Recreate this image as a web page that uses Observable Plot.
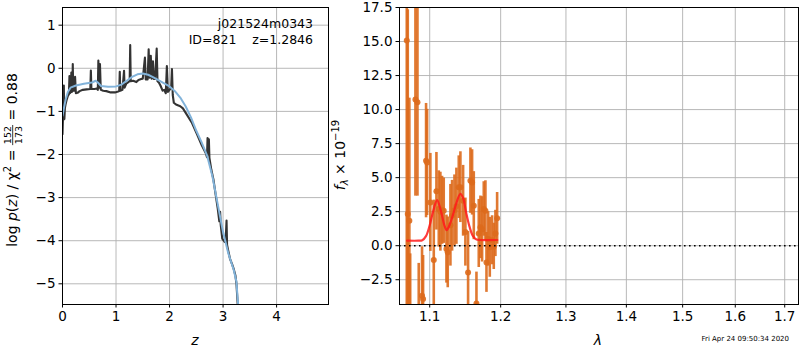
<!DOCTYPE html>
<html><head><meta charset="utf-8">
<script src="https://cdn.jsdelivr.net/npm/d3@7"></script>
<script src="https://cdn.jsdelivr.net/npm/@observablehq/plot@0.6"></script>
<style>
body{margin:0;background:#fff;}
#wrap{position:relative;width:800px;height:350px;overflow:hidden;font-family:"DejaVu Sans",sans-serif;}
#wrap svg{position:absolute;top:0;}
</style></head><body><div id="wrap"></div>
<script>
// ---- left panel data: log p(z) ----
const pzZ = [0.000,0.010,0.020,0.025,0.030,0.035,0.045,0.060,0.080,0.100,0.120,0.130,0.140,0.155,0.165,0.175,0.185,0.192,0.200,0.220,0.235,0.250,0.280,0.320,0.380,0.450,0.520,0.530,0.540,0.600,0.640,0.660,0.670,0.685,0.700,0.715,0.760,0.820,0.900,0.980,1.040,1.060,1.070,1.080,1.120,1.150,1.160,1.190,1.230,1.255,1.265,1.275,1.320,1.380,1.420,1.470,1.500,1.540,1.555,1.590,1.610,1.625,1.650,1.665,1.690,1.705,1.730,1.760,1.775,1.800,1.830,1.870,1.900,1.930,1.950,1.970,2.000,2.030,2.045,2.060,2.080,2.120,2.200,2.250,2.320,2.420,2.510,2.600,2.680,2.700,2.710,2.725,2.735,2.745,2.780,2.820,2.860,2.900,2.930,2.945,2.955,2.985,3.030,3.050,3.065,3.075,3.100,3.130,3.170,3.200,3.230,3.250,3.265,3.280];
const pzLog = [-1.53,-1.10,-0.95,-0.40,-0.95,-1.18,-0.92,-0.82,-0.72,-0.64,-0.60,-0.18,-0.58,-0.55,-0.10,-0.55,-0.53,0.10,-0.52,-0.52,-0.20,-0.58,-0.57,-0.53,-0.50,-0.49,-0.48,-0.05,-0.48,-0.48,-0.47,-0.50,0.18,-0.45,0.10,-0.50,-0.52,-0.53,-0.56,-0.56,-0.54,-0.53,-0.08,-0.52,-0.50,-0.06,-0.45,-0.36,-0.32,-0.30,0.54,-0.30,-0.29,-0.32,-0.27,-0.25,-0.24,0.25,-0.26,-0.26,0.44,-0.22,0.29,-0.24,0.16,-0.25,-0.25,0.46,-0.30,-0.33,-0.40,-0.52,-0.50,-0.58,0.05,-0.55,-0.50,-0.45,-0.02,-0.62,-0.80,-0.84,-0.88,-0.93,-1.07,-1.27,-1.52,-1.78,-1.98,-2.06,-1.62,-2.00,-1.65,-2.08,-2.35,-2.58,-2.92,-3.25,-3.55,-3.33,-3.62,-3.95,-4.03,-3.95,-3.53,-4.10,-4.25,-4.42,-4.55,-4.66,-4.80,-5.00,-5.30,-5.60];
const priorZ = [0.00,0.03,0.06,0.10,0.15,0.25,0.40,0.55,0.62,0.66,0.72,0.85,1.00,1.10,1.20,1.30,1.40,1.50,1.60,1.70,1.80,1.90,2.00,2.10,2.20,2.30,2.40,2.50,2.60,2.70,2.80,2.90,3.00,3.10,3.20,3.25,3.27,3.29];
const priorLog = [-1.10,-0.90,-0.72,-0.55,-0.45,-0.40,-0.36,-0.33,-0.29,-0.33,-0.41,-0.43,-0.42,-0.38,-0.29,-0.20,-0.14,-0.12,-0.15,-0.21,-0.28,-0.35,-0.42,-0.53,-0.68,-0.88,-1.14,-1.45,-1.72,-2.02,-2.50,-3.15,-3.80,-4.30,-4.68,-4.95,-5.30,-5.60];
const zTicks = [0,1,2,3,4];
const logTicks = [-5,-4,-3,-2,-1,0,1];

// ---- right panel data: spectrum ----
const specLam = [1.0695,1.0708,1.0729,1.0740,1.0809,1.0836,1.0853,1.0897,1.0911,1.0951,1.0965,1.1009,1.1055,1.1091,1.1123,1.1145,1.1168,1.1191,1.1228,1.1246,1.1283,1.1306,1.1339,1.1366,1.1399,1.1422,1.1460,1.1492,1.1530,1.1563,1.1587,1.1611,1.1649,1.1682,1.1706,1.1730,1.1754,1.1778,1.1793,1.1817,1.1841,1.1875,1.1899,1.1923,1.1948];
const specFlux = [15.07,2.33,1.84,-7.0,10.74,10.54,-6.5,-3.68,-3.92,6.25,6.12,3.18,-1.05,4.0,2.7,2.5,2.6,2.57,-0.25,-0.49,1.5,2.2,2.6,2.9,4.3,4.3,3.3,1.0,-1.96,4.78,4.65,2.94,-4.24,0.9,1.35,1.2,2.7,2.57,-1.23,0.5,-0.12,0.4,-0.05,0.9,2.01];
const specErr = [20,15,9,6.4,7.1,6.9,5.2,3.6,3.2,4.2,3.9,3.6,4.4,2.85,2.8,2.9,2.5,2.4,2.5,2.6,3.0,2.6,2.6,2.8,2.3,2.6,2.6,2.5,3.0,2.4,2.4,2.5,2.3,2.5,2.3,2.4,2.0,2.2,2.2,2.0,2.2,1.8,1.7,1.7,1.9];
const modelLam = [1.070,1.085,1.090,1.095,1.100,1.105,1.110,1.115,1.120,1.123,1.127,1.132,1.137,1.142,1.146,1.150,1.155,1.160,1.165,1.170,1.195];
const modelFlux = [0.37,0.37,0.40,0.70,1.50,2.60,3.35,2.60,1.50,1.15,1.50,2.30,3.20,3.80,3.50,2.50,1.40,0.70,0.45,0.42,0.42];
const lamTicks = [1.1,1.2,1.3,1.4,1.5,1.6,1.7];
const fluxTicks = [-2.5,0,2.5,5,7.5,10,12.5,15,17.5];

const objName = "j021524m0343";
const objInfo = "ID=821    z=1.2846";
const stamp = "Fri Apr 24 09:50:34 2020";

// ---- build rows ----
const pzRows = pzZ.map((z,i)=>({z, v: pzLog[i]}));
const priorRows = priorZ.map((z,i)=>({z, v: priorLog[i]}));
const specRows = specLam.map((l,i)=>({l, f: specFlux[i], e: specErr[i]}));
const modelRows = modelLam.map((l,i)=>({l, f: modelFlux[i]}));

const minus = s => String(s).replace("-", "\u2212");
const gridStyle = {stroke:"#b0b0b0", strokeOpacity:1, strokeWidth:0.9};
const baseStyle = {fontFamily:"DejaVu Sans, sans-serif", fontSize:"13.5px", color:"black", background:"transparent", overflow:"visible"};

const wrap = document.getElementById("wrap");

const left = Plot.plot({
  width: 340, height: 350,
  marginLeft: 62, marginRight: 12, marginTop: 7, marginBottom: 46,
  style: baseStyle,
  x: {domain:[0,4.97]},
  y: {domain:[-5.48,1.41]},
  marks: [
    Plot.gridX(zTicks, gridStyle),
    Plot.gridY(logTicks, gridStyle),
    Plot.line(pzRows, {x:"z", y:"v", stroke:"#333333", strokeWidth:2.1, clip:true}),
    Plot.line(priorRows, {x:"z", y:"v", stroke:"#82b3da", strokeWidth:2, clip:true}),
    Plot.frame({stroke:"black", strokeWidth:1}),
    Plot.axisX({ticks: zTicks, tickFormat: d=>minus(d), tickSize:3.5, tickPadding:3.5, label:null}),
    Plot.axisY({ticks: logTicks, tickFormat: d=>minus(d), tickSize:3.5, tickPadding:3.5, label:null})
  ]
});
left.style.left = "0px";
wrap.appendChild(left);

const right = Plot.plot({
  width: 460, height: 350,
  marginLeft: 59, marginRight: 2, marginTop: 7, marginBottom: 46,
  style: baseStyle,
  x: {type:"log", domain:[1.06,1.729]},
  y: {domain:[-4.32,17.5]},
  marks: [
    Plot.gridX(lamTicks, gridStyle),
    Plot.gridY(fluxTicks, gridStyle),
    Plot.ruleX(specRows, {x:"l", y1: d=>d.f-d.e, y2: d=>d.f+d.e, stroke:"#dd6a1c", strokeOpacity:0.9, strokeWidth:2.6, clip:true}),
    Plot.dot(specRows, {x:"l", y:"f", r:3, fill:"#dd6a1c", fillOpacity:0.9, clip:true}),
    Plot.line(modelRows, {x:"l", y:"f", stroke:"#ff1a1a", strokeOpacity:0.85, strokeWidth:2.2, curve:"catmull-rom"}),
    Plot.ruleY([0], {stroke:"black", strokeWidth:1.6, strokeDasharray:"1.6,3.4"}),
    Plot.frame({stroke:"black", strokeWidth:1}),
    Plot.axisX({ticks: lamTicks, tickFormat: d=>d.toFixed(1), tickSize:3.5, tickPadding:3.5, label:null}),
    Plot.axisY({ticks: fluxTicks, tickFormat: d=>minus(d.toFixed(1)), tickSize:3.5, tickPadding:3.5, label:null})
  ]
});
right.style.left = "340px";
wrap.appendChild(right);

// ---- overlay text ----
const ov = d3.select(wrap).append("svg")
  .attr("width",800).attr("height",350)
  .style("left","0px").style("pointer-events","none")
  .attr("font-family","DejaVu Sans, sans-serif");

ov.append("text").attr("x",313).attr("y",28).attr("text-anchor","end").attr("font-size",12.5).text(objName);
ov.append("text").attr("x",313).attr("y",44).attr("text-anchor","end").attr("font-size",12.5).style("white-space","pre").text(objInfo);

// x labels
ov.append("text").attr("x",195).attr("y",345).attr("text-anchor","middle").attr("font-size",14).attr("font-style","italic").text("z");
ov.append("text").attr("x",598).attr("y",345).attr("text-anchor","middle").attr("font-size",14).attr("font-style","italic").text("λ");

// timestamp
ov.append("text").attr("x",789).attr("y",341).attr("text-anchor","end").attr("font-size",7).text(stamp);

// left y label with fraction
{
  const g = ov.append("g");
  const t1 = g.append("text").attr("font-size",14).style("white-space","pre");
  t1.append("tspan").text("log ");
  t1.append("tspan").attr("font-style","italic").text("p");
  t1.append("tspan").text("(");
  t1.append("tspan").attr("font-style","italic").text("z");
  t1.append("tspan").text(") / \u03C7");
  t1.append("tspan").attr("font-size",10).attr("dy",-6).text("2");
  t1.append("tspan").attr("dy",6).text(" = ");
  const w1 = t1.node().getComputedTextLength();
  const num = g.append("text").attr("font-size",9.5).attr("text-anchor","middle").text("152");
  const den = g.append("text").attr("font-size",9.5).attr("text-anchor","middle").text("173");
  const fw = Math.max(num.node().getComputedTextLength(), den.node().getComputedTextLength()) + 2;
  const fc = w1 + fw/2;
  num.attr("x",fc).attr("y",-6);
  den.attr("x",fc).attr("y",4.5);
  g.append("line").attr("x1",w1).attr("x2",w1+fw).attr("y1",-4.3).attr("y2",-4.3).attr("stroke","black").attr("stroke-width",0.8);
  const t3 = g.append("text").attr("font-size",14).attr("x",w1+fw).style("white-space","pre").text(" = 0.88");
  const W = w1 + fw + t3.node().getComputedTextLength();
  g.attr("transform",`translate(17,${160 + W/2}) rotate(-90)`);
}

// right y label
{
  const g = ov.append("g").attr("transform","translate(345,155) rotate(-90)");
  const t = g.append("text").attr("font-size",14).attr("text-anchor","middle").style("white-space","pre");
  t.append("tspan").attr("font-style","italic").text("f");
  t.append("tspan").attr("font-size",10).attr("dy",3).attr("font-style","italic").text("λ");
  t.append("tspan").attr("dy",-3).text(" × 10");
  t.append("tspan").attr("font-size",10).attr("dy",-6).text("\u221219");
}
</script></body></html>
